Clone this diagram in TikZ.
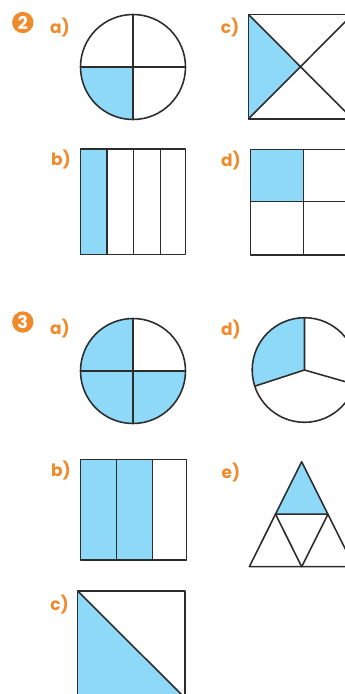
\documentclass[tikz,border=0pt]{standalone}
\usepackage{fontspec}
\setmainfont{Poppins}
\definecolor{orng}{RGB}{239,139,44}
\definecolor{sky}{RGB}{142,216,248}
\definecolor{ink}{RGB}{45,45,45}
\begin{document}
\begin{tikzpicture}[x=0.03cm,y=-0.03cm,
  fig/.style={draw=ink,line width=1.35pt,line join=round},
  lab/.style={text=orng,font=\bfseries\fontsize{14.5}{15}\selectfont,inner sep=0pt},
  badge/.style={circle,fill=orng,text=white,font=\bfseries\fontsize{15}{15}\selectfont,minimum size=0.64cm,inner sep=0pt}]
\useasboundingbox (0,0) rectangle (345,694);
\clip (0,0) rectangle (345,694);

% badges and labels
\node[badge] (b2) at (22.8,22.5) {2};
\node[badge] (b3) at (22.8,322) {3};
\node[lab] (l2a) at (60,27.5) {a)};
\node[lab] (l2b) at (61,160) {b)};
\node[lab] (l2c) at (230,28) {c)};
\node[lab] (l2d) at (231,161) {d)};
\node[lab] (l3a) at (60,328.5) {a)};
\node[lab] (l3b) at (61,471) {b)};
\node[lab] (l3c) at (59.5,605) {c)};
\node[lab] (l3d) at (231,330) {d)};
\node[lab] (l3e) at (231,473) {e)};

% 2a circle
\fill[sky] (133,67) -- (80.5,67) arc[start angle=180,end angle=90,radius=52.5] -- cycle;
\draw[fig] (133,67) circle[radius=52.5];
\draw[fig] (80.5,67) -- (185.5,67) (133,14.5) -- (133,119.5);

% 2c square
\fill[sky] (248.3,14.3) -- (300.5,66.7) -- (248.3,119) -- cycle;
\draw[fig] (248.3,14.3) rectangle (352.7,119);
\draw[fig] (248.3,14.3) -- (352.7,119) (248.3,119) -- (352.7,14.3);

% 2b strips
\fill[sky] (80.7,149) rectangle (107,254.3);
\draw[fig] (80.7,149) rectangle (185.7,254.3);
\draw[fig] (107,149) -- (107,254.3) (133.7,149) -- (133.7,254.3) (160.3,149) -- (160.3,254.3);

% 2d quarters
\fill[sky] (250.7,149.7) rectangle (303.3,201.7);
\draw[fig] (250.7,149.7) rectangle (355.7,255);
\draw[fig] (303.3,149.7) -- (303.3,255) (250.7,201.7) -- (355.7,201.7);

% 3a circle
\fill[sky] (133,371) -- (185.5,371) arc[start angle=0,end angle=270,radius=52.5] -- cycle;
\draw[fig] (133,371) circle[radius=52.5];
\draw[fig] (80.5,371) -- (185.5,371) (133,318.5) -- (133,423.5);

% 3d circle in thirds
\fill[sky] (304.5,370) -- ++(162:52.3) arc[start angle=162,end angle=270,radius=52.3] -- cycle;
\draw[fig] (304.5,370) circle[radius=52.3];
\draw[fig] (304.5,370) -- ++(270:52.3) (304.5,370) -- ++(162:52.3) (304.5,370) -- ++(16:52.3);

% 3b thirds
\fill[sky] (80.7,459.3) rectangle (152.7,560);
\draw[fig] (80.7,459.3) rectangle (186.7,560);
\draw[fig] (116.7,459.3) -- (116.7,560) (152.7,459.3) -- (152.7,560);

% 3e triangle
\fill[sky] (301.7,461.7) -- (275.5,514.2) -- (327.9,514.2) -- cycle;
\draw[fig] (301.7,461.7) -- (249.3,566.7) -- (354.1,566.7) -- cycle;
\draw[fig] (275.5,514.2) -- (327.9,514.2) -- (301.7,566.7) -- cycle;

% 3c square with diagonal
\fill[sky] (77.7,591) -- (77.7,698) -- (185,698) -- cycle;
\draw[fig] (77.7,591) rectangle (185,698);
\draw[fig] (77.7,591) -- (185,698);
\end{tikzpicture}
\end{document}
